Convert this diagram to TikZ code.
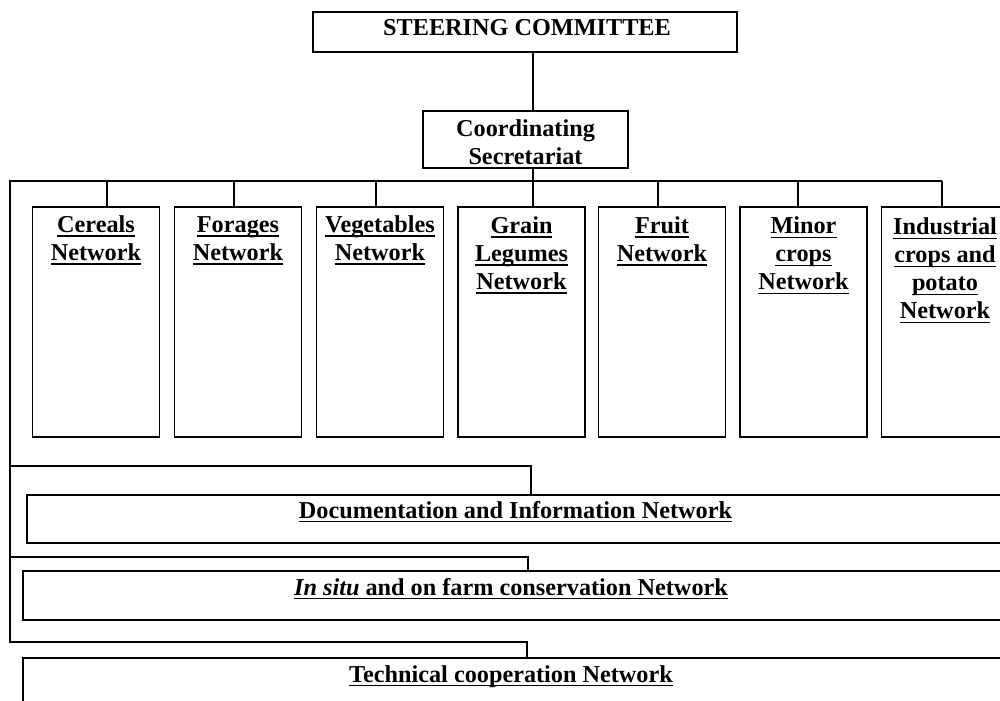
\documentclass[tikz,border=0pt]{standalone}
\usepackage{fontspec}
\setmainfont{Liberation Serif}
\newsavebox\ulbox
\newcommand\ulw[1]{\sbox\ulbox{#1}\rlap{\rule[-2.4pt]{\wd\ulbox}{0.8pt}}\usebox\ulbox}
\newcommand\px{0.02cm}
\tikzset{
  box/.style={draw, line width=1pt, inner sep=0pt, fill=white},
  ln/.style={line width=1pt},
  txt/.style={font=\fontsize{13.8}{15.9}\selectfont\bfseries, align=center, inner sep=0pt},
  netbox/.style={box, minimum width=127*\px, minimum height=230*\px},
}
\begin{document}
\begin{tikzpicture}[x=0.02cm, y=-0.02cm]
\useasboundingbox (0,0) rectangle (1000,700);
\fill[white] (0,0) rectangle (1000,700);
\clip (0,0) rectangle (1000,700);

% top
\node[box, minimum width=424*\px, minimum height=40*\px] (sc) at (525,32) {};
\node[txt, anchor=base] (sct) at (527,35) {STEERING COMMITTEE};
\node[box, minimum width=205*\px, minimum height=57*\px] (cs) at (525.5,139.5) {};
\node[txt, anchor=north] (cst) at (525.5,116.5) {\strut Coordinating\\Secretariat};

% bus coordinates
\coordinate (busL) at (10,181);
\coordinate (busB) at (10,642);
\coordinate (d1) at (107,181);
\coordinate (d2) at (234,181);
\coordinate (d3) at (376,181);
\coordinate (d4) at (533,181);
\coordinate (d5) at (658,181);
\coordinate (d6) at (798,181);
\coordinate (d7) at (942,181);

% network boxes
\node[netbox] (cer) at (96,322) {};
\node[netbox] (for) at (238,322) {};
\node[netbox] (veg) at (380,322) {};
\node[netbox] (gra) at (521.5,322) {};
\node[netbox] (fru) at (662,322) {};
\node[netbox] (min) at (803.5,322) {};
\node[netbox] (ind) at (945,322) {};
\node[txt, anchor=north] (cerT) at (96,212.5) {\strut\ulw{Cereals}\\\ulw{Network}};
\node[txt, anchor=north] (forT) at (238,212.5) {\strut\ulw{Forages}\\\ulw{Network}};
\node[txt, anchor=north] (vegT) at (380,212.5) {\strut\ulw{Vegetables}\\\ulw{Network}};
\node[txt, anchor=north] (graT) at (521.5,213.5) {\strut\ulw{Grain}\\\ulw{Legumes}\\\ulw{Network}};
\node[txt, anchor=north] (fruT) at (662,213.5) {\strut\ulw{Fruit}\\\ulw{Network}};
\node[txt, anchor=north] (minT) at (803.5,214) {\strut\ulw{Minor}\\\ulw{crops}\\\ulw{Network}};
\node[txt, anchor=north] (indT) at (945,215) {\strut\ulw{Industrial}\\\ulw{crops and}\\\ulw{potato}\\\ulw{Network}};

% bottom networks
\node[box, minimum width=977*\px, minimum height=48*\px] (doc) at (515.5,519) {};
\node[txt, anchor=base] (docT) at (515.5,518) {\ulw{Documentation and Information Network}};
\node[box, minimum width=980*\px, minimum height=49*\px] (ins) at (513,595.5) {};
\node[txt, anchor=base] (insT) at (511,595) {\ulw{\textit{In situ} and on farm conservation Network}};
\node[box, minimum width=980*\px, minimum height=62*\px] (tec) at (513,689) {};
\node[txt, anchor=base] (tecT) at (511,682) {\ulw{Technical cooperation Network}};

% bracket corners
\coordinate (k1) at (531,466);
\coordinate (k2) at (528,557);
\coordinate (k3) at (527,642);

% connectors
\draw[ln] (d4 |- sc.south) -- (d4 |- cs.north);
\draw[ln] (d4 |- cs.south) -- (d4);
\draw[ln] (d7) -- (busL) -- (busB) -- (k3) -- (k3 |- tec.north);
\foreach \d/\n in {d1/cer, d2/for, d3/veg, d4/gra, d5/fru, d6/min, d7/ind}
  \draw[ln] (\d) -- (\d |- \n.north);
\draw[ln] (busL |- k1) -- (k1) -- (k1 |- doc.north);
\draw[ln] (busL |- k2) -- (k2) -- (k2 |- ins.north);
\end{tikzpicture}
\end{document}
